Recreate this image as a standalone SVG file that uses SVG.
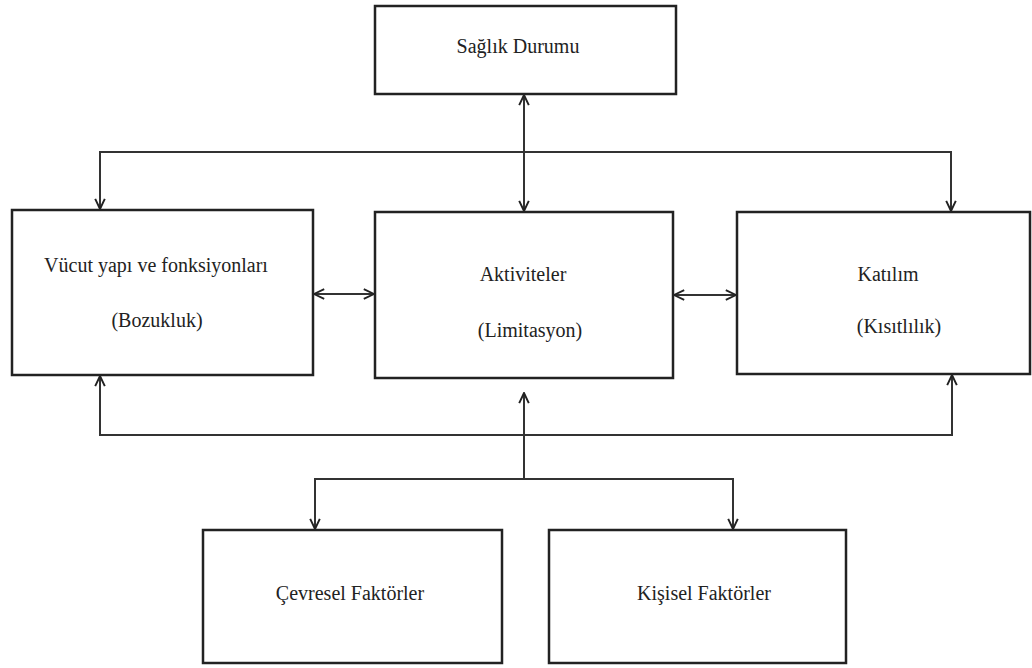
<svg xmlns="http://www.w3.org/2000/svg" width="1032" height="668" viewBox="0 0 1032 668">
<style>
.box{fill:#fff;stroke:#222;stroke-width:2.5}
.lbl{font-family:'Liberation Serif','Times New Roman','DejaVu Serif',serif;font-size:20px;fill:#222;text-anchor:middle}
.con{fill:none;stroke:#333;stroke-width:2}
</style>
<defs>
<marker id="arr" viewBox="0 0 10 10" refX="9.5" refY="5" markerUnits="userSpaceOnUse" markerWidth="12" markerHeight="12" orient="auto-start-reverse">
<path d="M1,1 L9.5,5 L1,9" fill="none" stroke="#222" stroke-width="1.6"/>
</marker>
</defs>
<rect width="1032" height="668" fill="#fff"/>
<g id="connectors">
<line class="con" x1="524" y1="95" x2="524" y2="211" marker-start="url(#arr)" marker-end="url(#arr)"/>
<polyline class="con" points="100,209 100,152 951,152 951,211" marker-start="url(#arr)" marker-end="url(#arr)"/>
<line class="con" x1="314" y1="294" x2="374" y2="294" marker-start="url(#arr)" marker-end="url(#arr)"/>
<line class="con" x1="674" y1="295" x2="736" y2="295" marker-start="url(#arr)" marker-end="url(#arr)"/>
<polyline class="con" points="100,376 100,435 952,435 952,375" marker-start="url(#arr)" marker-end="url(#arr)"/>
<line class="con" x1="524" y1="479" x2="524" y2="393" marker-end="url(#arr)"/>
<polyline class="con" points="315,529 315,479 733,479 733,529" marker-start="url(#arr)" marker-end="url(#arr)"/>
</g>
<g id="saglik">
<rect class="box" x="375" y="6" width="301" height="88"/>
<text class="lbl" font-family="Liberation Serif, serif" x="518" y="53">Sağlık Durumu</text>
</g>
<g id="vucut">
<rect class="box" x="12" y="210" width="301" height="165"/>
<text class="lbl" font-family="Liberation Serif, serif" x="156" y="272">Vücut yapı ve fonksiyonları</text>
<text class="lbl" font-family="Liberation Serif, serif" x="157" y="327">(Bozukluk)</text>
</g>
<g id="aktiviteler">
<rect class="box" x="375" y="212" width="298" height="166"/>
<text class="lbl" font-family="Liberation Serif, serif" x="523" y="281">Aktiviteler</text>
<text class="lbl" font-family="Liberation Serif, serif" x="530" y="337">(Limitasyon)</text>
</g>
<g id="katilim">
<rect class="box" x="737" y="212" width="293" height="162" stroke-width="3"/>
<text class="lbl" font-family="Liberation Serif, serif" x="888" y="281">Katılım</text>
<text class="lbl" font-family="Liberation Serif, serif" x="899" y="333">(Kısıtlılık)</text>
</g>
<g id="cevresel">
<rect class="box" x="203" y="530" width="299" height="133"/>
<text class="lbl" font-family="Liberation Serif, serif" x="350" y="600">Çevresel Faktörler</text>
</g>
<g id="kisisel">
<rect class="box" x="549" y="530" width="297" height="133"/>
<text class="lbl" font-family="Liberation Serif, serif" x="704" y="600">Kişisel Faktörler</text>
</g>
</svg>
